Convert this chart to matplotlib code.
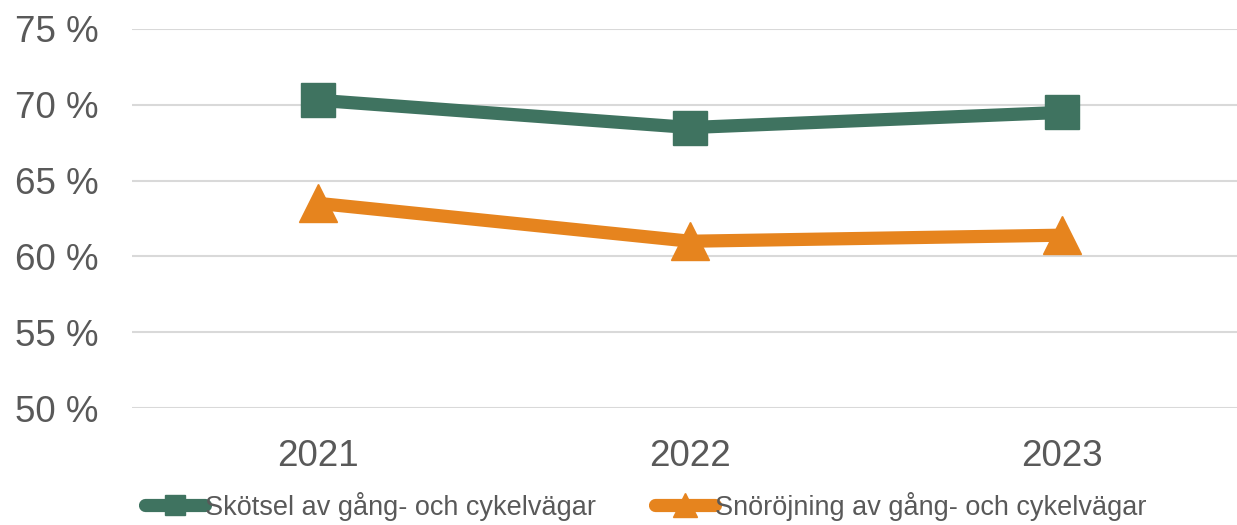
import numpy as np
from matplotlib import pyplot as plt

plt.rcParams['font.family'] = ['Liberation Sans', 'DejaVu Sans']

years = ['2021', '2022', '2023']
skotsel = [70.3, 68.5, 69.5]
snorojning = [63.5, 61.0, 61.4]
yticks = [50, 55, 60, 65, 70, 75]

green = '#3F7360'
orange = '#E6841E'
text_grey = '#595959'

fig = plt.figure(figsize=(12.37, 5.25), dpi=100)
ax = fig.add_axes([132 / 1237, 117 / 525, 1 - 132 / 1237, 379 / 525])

x = np.arange(len(years))
ax.plot(x, skotsel, color=green, lw=9.5, marker='s', ms=24,
        label='Skötsel av gång- och cykelvägar', solid_capstyle='round')
ax.plot(x, snorojning, color=orange, lw=9.5, marker='^', ms=28,
        label='Snöröjning av gång- och cykelvägar', solid_capstyle='round')

ax.set_xlim(-0.5, 2.47)
ax.set_ylim(50, 75)
ax.set_xticks(x)
ax.set_xticklabels(years)
ax.set_yticks(yticks)
ax.set_yticklabels([f'{v} %' for v in yticks])
ax.grid(axis='y', color='#D9D9D9', lw=1.5)
ax.set_axisbelow(True)
for s in ax.spines.values():
    s.set_visible(False)
ax.tick_params(axis='both', length=0, labelsize=26.5, colors=text_grey)
ax.tick_params(axis='y', pad=24)
ax.tick_params(axis='x', pad=22)

leg = fig.legend(loc='lower center', bbox_to_anchor=(0.522, -0.038), ncol=2,
                 frameon=False, fontsize=19.5, handlelength=2.2,
                 handletextpad=0.0, columnspacing=2.2, markerscale=0.6)
for t in leg.get_texts():
    t.set_color(text_grey)

fig.savefig('out.png', dpi=100)
